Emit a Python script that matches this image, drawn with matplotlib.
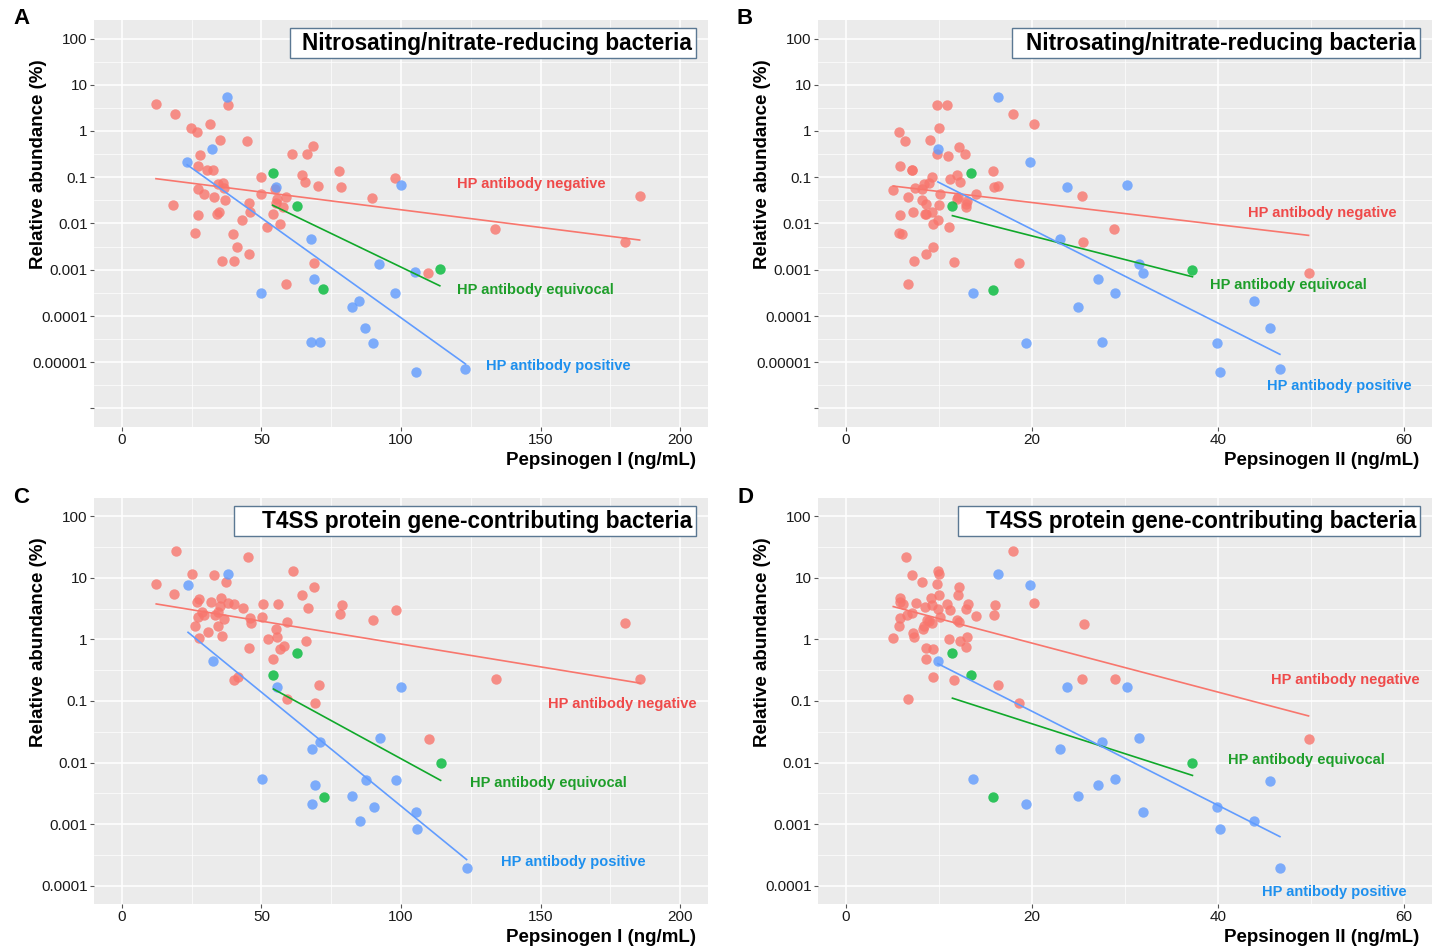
import numpy as np
import matplotlib
matplotlib.use('Agg')
import matplotlib.pyplot as plt
from matplotlib.patches import Rectangle
from matplotlib.ticker import FixedLocator, NullFormatter

plt.rcParams['font.family'] = ['Liberation Sans', 'DejaVu Sans']

# ---- panel A: Pepsinogen I vs nitrosating/nitrate-reducing bacteria
a_neg_x = [12.2, 19.1, 24.7, 26.8, 31.6, 35.2, 37.9, 44.9, 28.1, 27.2, 30.6, 32.8, 27.2, 29.5, 33.1,
           34.6, 36.4, 36.7, 37.0, 18.4, 27.2, 34.2, 34.9, 26.2, 39.8, 43.0, 45.4, 45.9, 41.2, 35.7,
           40.0, 45.6, 50.0, 49.9, 51.9, 54.0, 54.8, 55.6, 55.3, 56.5, 57.8, 58.9, 61.1, 64.4, 65.5,
           66.3, 68.5, 70.1, 69.0, 58.8, 77.7, 78.4, 89.7, 97.8, 109.6, 133.7, 180.1, 185.5]
a_neg_y = [3.76, 2.35, 1.15, 0.96, 1.43, 0.64, 3.57, 0.62, 0.30, 0.178, 0.143, 0.143, 0.0546, 0.0425,
           0.038, 0.071, 0.076, 0.059, 0.0315, 0.0253, 0.0154, 0.0159, 0.018, 0.00625, 0.00594,
           0.0118, 0.0275, 0.0176, 0.00316, 0.00154, 0.00154, 0.00219, 0.099, 0.0425, 0.0084,
           0.0161, 0.057, 0.0336, 0.0271, 0.0098, 0.0229, 0.0366, 0.324, 0.112, 0.080, 0.324,
           0.475, 0.0655, 0.00142, 0.00048, 0.139, 0.0624, 0.0348, 0.096, 0.00086, 0.00763,
           0.0039, 0.0385]
a_eq_x = [54.0, 62.6, 72.1, 113.9]
a_eq_y = [0.123, 0.0241, 0.00038, 0.00102]
a_pos_x = [23.4, 32.4, 37.7, 55.3, 99.9, 50.0, 67.8, 69.0, 67.8, 70.8, 82.3, 84.9, 87.2, 90.0,
           92.2, 97.8, 105.0, 105.5, 123.1]
a_pos_y = [0.214, 0.403, 5.5, 0.063, 0.069, 0.000317, 0.00463, 0.00064, 2.7e-5, 2.7e-5, 0.000155,
           0.000209, 5.5e-5, 2.56e-5, 0.00135, 0.000322, 0.00089, 6.1e-6, 7.1e-6]

# ---- panel B: Pepsinogen II vs nitrosating/nitrate-reducing bacteria
b_neg_x = [5.68, 6.36, 9.79, 10.87, 9.99, 9.06, 18.01, 20.26, 12.14, 12.78, 9.84, 10.96, 5.78, 7.10,
           7.15, 15.86, 9.25, 11.89, 11.21, 12.24, 5.09, 7.44, 8.37, 8.96, 8.22, 10.08, 6.66, 8.17,
           8.66, 9.99, 11.89, 12.09, 13.02, 12.92, 12.87, 14.0, 15.96, 16.35, 5.78, 7.2, 8.47,
           8.6, 9.25, 9.89, 9.35, 11.06, 5.68, 6.07, 9.35, 8.66, 7.29, 11.6, 6.66, 18.65, 25.36,
           25.5, 28.83, 49.73]
b_neg_y = [0.94, 0.61, 3.69, 3.57, 1.15, 0.64, 2.35, 1.41, 0.46, 0.324, 0.314, 0.293, 0.175, 0.143,
           0.14, 0.136, 0.101, 0.112, 0.093, 0.079, 0.0536, 0.059, 0.071, 0.076, 0.057, 0.0425,
           0.037, 0.0315, 0.0266, 0.0253, 0.0336, 0.0366, 0.0304, 0.026, 0.0222, 0.0432, 0.0624,
           0.0655, 0.0154, 0.018, 0.0161, 0.0161, 0.0176, 0.0118, 0.0096, 0.0084, 0.0062, 0.0059,
           0.00316, 0.00219, 0.00154, 0.0015, 0.00048, 0.0014, 0.0385, 0.0039, 0.0075, 0.00086]
b_eq_x = [13.46, 11.45, 15.76, 37.25]
b_eq_y = [0.121, 0.0241, 0.00037, 0.001]
b_pos_x = [16.35, 9.89, 19.77, 23.74, 30.25, 22.96, 13.71, 27.07, 28.88, 24.96, 31.47, 31.96,
           19.38, 27.56, 39.84, 43.86, 45.57, 40.24, 46.65]
b_pos_y = [5.4, 0.40, 0.214, 0.061, 0.069, 0.0046, 0.00031, 0.00064, 0.00032, 0.000155, 0.0013,
           0.00087, 2.65e-5, 2.7e-5, 2.6e-5, 0.000209, 5.5e-5, 6.1e-6, 7.0e-6]

# ---- panel C: Pepsinogen I vs T4SS protein gene-contributing bacteria
c_neg_x = [19.4, 45.3, 25.0, 33.1, 37.4, 12.3, 61.4, 68.8, 18.8, 64.7, 27.5, 27.0, 31.9, 35.6,
           37.9, 40.2, 35.1, 50.4, 56.1, 78.7, 66.7, 43.3, 98.1, 78.0, 28.6, 33.3, 29.5, 27.3,
           34.6, 36.7, 45.8, 50.2, 90.0, 46.3, 59.3, 26.3, 34.4, 55.3, 30.9, 35.9, 27.5, 55.6,
           52.2, 65.8, 57.9, 56.6, 45.6, 54.2, 41.5, 40.3, 70.5, 59.1, 69.3, 134.0, 185.8, 180.4,
           110.0]
c_neg_y = [27.3, 21.8, 11.8, 11.0, 8.45, 7.9, 13.1, 7.1, 5.4, 5.3, 4.6, 4.05, 4.0, 4.8, 3.85, 3.75,
           3.5, 3.75, 3.75, 3.66, 3.19, 3.19, 3.04, 2.55, 2.82, 2.52, 2.47, 2.28, 2.8, 2.17, 2.2,
           2.34, 2.09, 1.87, 1.89, 1.63, 1.65, 1.47, 1.30, 1.13, 1.06, 1.11, 1.0, 0.94, 0.78,
           0.69, 0.73, 0.485, 0.247, 0.218, 0.181, 0.106, 0.093, 0.226, 0.224, 1.82, 0.0243]
c_eq_x = [54.3, 62.7, 72.4, 114.2]
c_eq_y = [0.263, 0.60, 0.0028, 0.0098]
c_pos_x = [23.7, 37.9, 32.8, 55.6, 100.1, 71.1, 68.0, 92.5, 50.2, 87.6, 98.1, 69.1, 82.6, 68.0,
           90.4, 105.3, 85.3, 105.8, 123.5]
c_pos_y = [7.65, 11.5, 0.44, 0.172, 0.166, 0.0217, 0.0167, 0.0249, 0.00536, 0.00516, 0.0052,
           0.00434, 0.0029, 0.0021, 0.0019, 0.00158, 0.0011, 0.00083, 0.00019]

# ---- panel D: Pepsinogen II vs T4SS protein gene-contributing bacteria
d_neg_x = [6.41, 18.01, 7.15, 9.89, 9.99, 8.22, 9.84, 12.19, 5.78, 5.83, 6.12, 7.54, 9.1, 9.99,
           12.0, 9.25, 10.87, 13.12, 16.0, 8.52, 9.94, 11.16, 12.87, 6.61, 7.15, 5.78, 10.13,
           14.0, 15.9, 8.71, 8.96, 11.94, 9.3, 12.14, 25.55, 20.26, 5.73, 8.42, 8.27, 7.2, 7.29,
           5.09, 11.11, 12.97, 12.29, 8.66, 9.4, 12.87, 8.57, 9.4, 11.6, 16.35, 25.4, 28.88,
           6.71, 18.65, 49.73]
d_neg_y = [21.8, 27.3, 11.0, 13.2, 11.8, 8.5, 7.9, 7.0, 4.7, 4.1, 3.8, 3.95, 4.8, 5.3, 5.2, 3.7,
           3.8, 3.8, 3.6, 3.35, 3.18, 3.0, 3.1, 2.54, 2.7, 2.27, 2.3, 2.4, 2.5, 2.1, 2.0, 2.06,
           1.86, 1.9, 1.81, 3.98, 1.64, 1.64, 1.48, 1.29, 1.11, 1.05, 1.0, 1.1, 0.935, 0.73,
           0.69, 0.76, 0.48, 0.243, 0.217, 0.182, 0.225, 0.225, 0.106, 0.093, 0.024]
d_eq_x = [11.45, 13.46, 15.76, 37.25]
d_eq_y = [0.596, 0.261, 0.00277, 0.0097]
d_pos_x = [16.35, 19.77, 9.89, 23.74, 30.25, 27.56, 22.96, 31.47, 13.71, 28.88, 45.57, 27.07,
           24.96, 19.38, 39.84, 31.96, 43.86, 40.24, 46.65]
d_pos_y = [11.5, 7.6, 0.44, 0.171, 0.166, 0.0215, 0.0165, 0.025, 0.0054, 0.0053, 0.0051, 0.0043,
           0.0029, 0.0021, 0.0019, 0.00158, 0.0011, 0.00082, 0.00019]

group_names = ['HP antibody negative', 'HP antibody equivocal', 'HP antibody positive']
point_colors = ['#F8766D', '#00BA38', '#619CFF']
line_colors = ['#F8766D', '#10A82A', '#619CFF']
text_colors = ['#EF4A4A', '#1E9E2A', '#1E90EE']

titles = ['Nitrosating/nitrate-reducing bacteria', 'Nitrosating/nitrate-reducing bacteria',
          'T4SS protein gene-contributing bacteria', 'T4SS protein gene-contributing bacteria']
xlabels = ['Pepsinogen I (ng/mL)', 'Pepsinogen II (ng/mL)', 'Pepsinogen I (ng/mL)', 'Pepsinogen II (ng/mL)']
letters = ['A', 'B', 'C', 'D']

W, H = 1434, 949
fig = plt.figure(figsize=(W / 100, H / 100), dpi=100)

# pixel boxes: left, top, right, bottom
boxes = [(94, 20, 708, 427), (818, 20, 1432, 427), (94, 498, 708, 904), (818, 498, 1432, 904)]
panels = [
    ((a_neg_x, a_neg_y), (a_eq_x, a_eq_y), (a_pos_x, a_pos_y)),
    ((b_neg_x, b_neg_y), (b_eq_x, b_eq_y), (b_pos_x, b_pos_y)),
    ((c_neg_x, c_neg_y), (c_eq_x, c_eq_y), (c_pos_x, c_pos_y)),
    ((d_neg_x, d_neg_y), (d_eq_x, d_eq_y), (d_pos_x, d_pos_y)),
]
label_pos = [
    [(0.591, 0.597), (0.591, 0.337), (0.638, 0.150)],
    [(0.700, 0.526), (0.638, 0.349), (0.731, 0.101)],
    [(0.739, 0.493), (0.612, 0.298), (0.663, 0.103)],
    [(0.738, 0.552), (0.668, 0.355), (0.723, 0.030)],
]
title_box_x0 = [0.319, 0.316, 0.228, 0.228]

for i in range(4):
    l, t, r, b = boxes[i]
    ax = fig.add_axes([l / W, 1 - b / H, (r - l) / W, (b - t) / H])
    ax.set_facecolor('#EBEBEB')
    for s in ax.spines.values():
        s.set_visible(False)
    ax.set_yscale('log')

    if i % 2 == 0:
        ax.set_xlim(-10, 210)
        xmaj = [0, 50, 100, 150, 200]
        xmin = [25, 75, 125, 175]
    else:
        ax.set_xlim(-3, 63)
        xmaj = [0, 20, 40, 60]
        xmin = [10, 30, 50]
    if i < 2:
        ax.set_ylim(10 ** -6.4, 10 ** 2.4)
        yexp = list(range(-6, 3))
        ylabs = ['', '0.00001', '0.0001', '0.001', '0.01', '0.1', '1', '10', '100']
    else:
        ax.set_ylim(10 ** -4.3, 10 ** 2.3)
        yexp = list(range(-4, 3))
        ylabs = ['0.0001', '0.001', '0.01', '0.1', '1', '10', '100']

    ax.xaxis.set_major_locator(FixedLocator(xmaj))
    ax.xaxis.set_minor_locator(FixedLocator(xmin))
    ax.set_xticklabels([str(v) for v in xmaj])
    ax.yaxis.set_major_locator(FixedLocator([10.0 ** e for e in yexp]))
    ax.yaxis.set_minor_locator(FixedLocator([10.0 ** (e + 0.5) for e in yexp[:-1]]))
    ax.yaxis.set_minor_formatter(NullFormatter())
    ax.set_yticklabels(ylabs)
    ax.tick_params(which='major', length=3, width=0.8, color='#555555', pad=1.5,
                   labelsize=11, labelcolor='#1a1a1a')
    ax.tick_params(which='minor', length=0)
    ax.grid(True, which='major', color='white', linewidth=1.1)
    ax.grid(True, which='minor', color='white', linewidth=0.5)
    ax.set_axisbelow(True)

    for g in range(3):
        gx = np.array(panels[i][g][0])
        gy = np.array(panels[i][g][1])
        ax.scatter(gx, gy, s=56, color=point_colors[g], alpha=0.8, linewidths=0, zorder=3)
        k, c0 = np.polyfit(gx, np.log10(gy), 1)
        xx = np.array([gx.min(), gx.max()])
        ax.plot(xx, 10 ** (k * xx + c0), color=line_colors[g], linewidth=1.2, zorder=4)
        ax.text(label_pos[i][g][0], label_pos[i][g][1], group_names[g], transform=ax.transAxes,
                color=text_colors[g], fontsize=10.5, fontweight='bold', ha='left', va='center')

    # title box in top-right corner
    x0 = title_box_x0[i]
    ax.add_patch(Rectangle((x0, 0.906), 0.980 - x0, 0.074, transform=ax.transAxes,
                           facecolor='white', edgecolor='#5B7893', linewidth=1.0, zorder=5))
    ax.text(0.974, 0.943, titles[i], transform=ax.transAxes, ha='right', va='center',
            fontsize=16.3, fontweight='bold', color='black', zorder=6)

    ax.text(-0.0904, 0.646, 'Relative abundance (%)', transform=ax.transAxes, rotation=90,
            ha='center', va='center', fontsize=13.5, fontweight='bold')
    ax.text(0.980, -0.082, xlabels[i], transform=ax.transAxes, ha='right', va='center',
            fontsize=13.5, fontweight='bold')
    fig.text((l - 73) / W, 1 - (t - 1) / H, letters[i], ha='center', va='center',
             fontsize=16, fontweight='bold')

plt.savefig('out.png', dpi=100)
